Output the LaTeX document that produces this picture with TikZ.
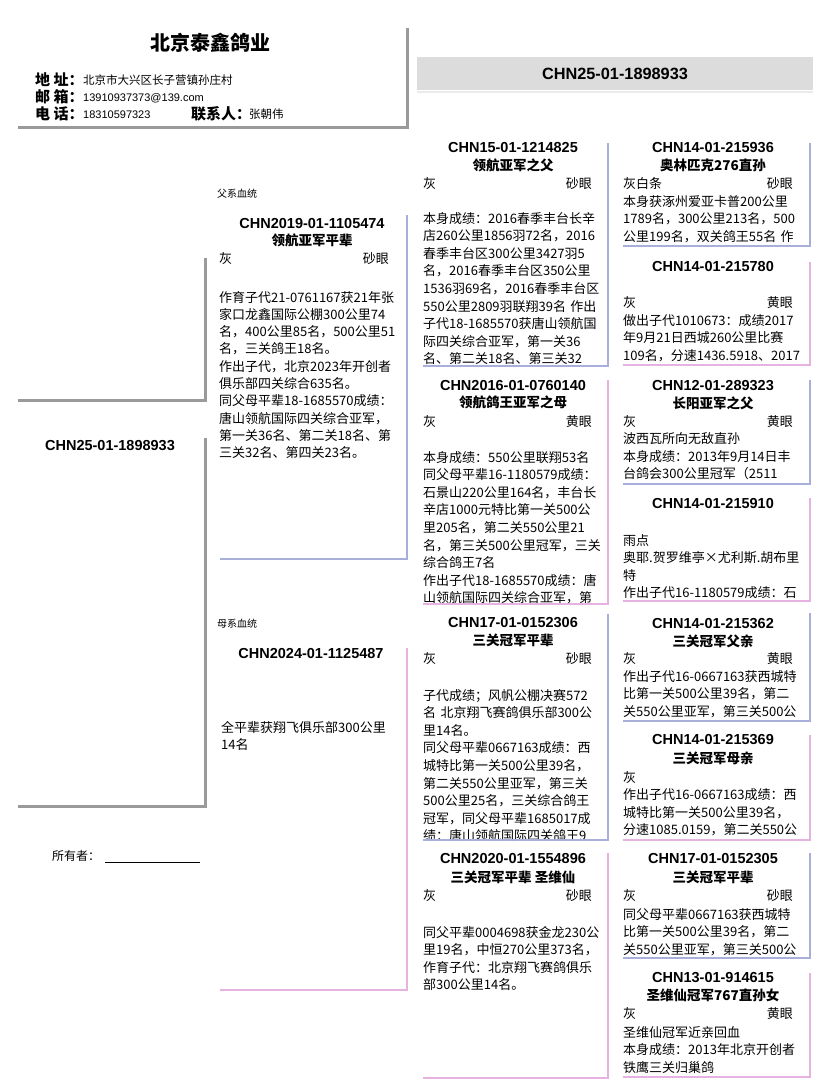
\documentclass[tikz,border=0pt]{standalone}
\usepackage{fontspec}
\setmainfont{Noto Sans CJK SC}
\newfontfamily\lat{Liberation Sans}
\definecolor{lineblue}{HTML}{A8AFDA}
\definecolor{linepink}{HTML}{E6B3E1}
\definecolor{linegray}{HTML}{9A9A9A}
\definecolor{bannergray}{HTML}{DCDCDC}
\newcommand\idfont{\lat\bfseries\fontsize{14.5}{17}\selectfont}
\newcommand\bigidfont{\lat\bfseries\fontsize{16.3}{19}\selectfont}
\newcommand\namefont{\bfseries\fontsize{13.5}{17}\selectfont}
\newcommand\bodyfont{\fontsize{13}{17.6}\selectfont}
\tikzset{
  x=1pt, y=-1pt,
  idn/.style={font=\idfont, anchor=base, inner sep=0pt},
  nmn/.style={font=\namefont, anchor=base, inner sep=0pt},
  bodyn/.style={font=\bodyfont, anchor=base west, inner sep=0pt, text width=200pt, align=left},
  lbln/.style={font=\bodyfont, anchor=base west, inner sep=0pt},
  eyen/.style={font=\bodyfont, anchor=base east, inner sep=0pt},
  hdrlbl/.style={font=\bfseries\fontsize{15}{17}\selectfont, anchor=base west, inner sep=0pt},
  blueline/.style={draw=lineblue, line width=2.5pt},
  pinkline/.style={draw=linepink, line width=2.5pt},
  grayline/.style={draw=linegray, line width=3pt},
}
\begin{document}
\begin{tikzpicture}
\useasboundingbox (0,0) rectangle (828,1084);
\fill[white] (0,0) rectangle (828,1084);

% ---------- header ----------
\node[font=\bfseries\fontsize{20}{24}\selectfont, anchor=base, inner sep=0pt] (title) at (210,50.6) {北京泰鑫鸽业};
\node[hdrlbl] (laddr) at (35,85.7) {地 址：};
\node[hdrlbl] (lmail) at (35,102.7) {邮 箱：};
\node[hdrlbl] (ltel) at (35,119.7) {电 话：};
\node[hdrlbl] (lcontact) at (191,119.7) {联系人：};
\node[font=\fontsize{11.5}{13}\selectfont, anchor=base west, inner sep=0pt] (vaddr) at (83,84.4) {北京市大兴区长子营镇孙庄村};
\node[font=\lat\fontsize{11}{13}\selectfont, anchor=base west, inner sep=0pt] (vmail) at (83,101.2) {13910937373@139.com};
\node[font=\lat\fontsize{11}{13}\selectfont, anchor=base west, inner sep=0pt] (vtel) at (83,118.2) {18310597323};
\node[font=\fontsize{11.5}{13}\selectfont, anchor=base west, inner sep=0pt] (vcontact) at (249,118.4) {张朝伟};
\draw[grayline] (18,127) -- (407,127) -- (407,28);

% ---------- banner ----------
\fill[bannergray] (417,57) rectangle (813,90);
\draw[draw=black!8, line width=1.5pt] (417,92) -- (813,92);
\node[font=\bigidfont, anchor=base, inner sep=0pt] (banner) at (615,79) {CHN25-01-1898933};

% ---------- left column ----------
\draw[grayline] (205,258) -- (205,400) -- (18,400);
\draw[grayline] (205,438) -- (205,806) -- (18,806);
\node[idn] (subject) at (110,450) {CHN25-01-1898933};
\node[font=\fontsize{10}{12}\selectfont, anchor=base west, inner sep=0pt] (sirelbl) at (217,197) {父系血统};
\node[font=\fontsize{10}{12}\selectfont, anchor=base west, inner sep=0pt] (damlbl) at (217,627) {母系血统};
\node[font=\fontsize{12}{14}\selectfont, anchor=base west, inner sep=0pt] (owner) at (52,860.5) {所有者：};
\draw[black, line width=0.8pt] (105,862) -- (200,862);

% ---------- sire ----------
\node[idn] (sid) at (312,228) {CHN2019-01-1105474};
\node[nmn] (snm) at (312,245) {领航亚军平辈};
\node[lbln] (scol) at (219,263) {灰};
\node[eyen] (seye) at (389,263) {砂眼};
\node[bodyn, font=\fontsize{13}{17.3}\selectfont] (sbody) at (219,302) {作育子代21-0761167获21年张\\家口龙鑫国际公棚300公里74\\名，400公里85名，500公里51\\名，三关鸽王18名。\\作出子代，北京2023年开创者\\俱乐部四关综合635名。\\同父母平辈18-1685570成绩：\\唐山领航国际四关综合亚军，\\第一关36名、第二关18名、第\\三关32名、第四关23名。};
\draw[blueline] (220,559) -- (407,559) -- (407,215);

% ---------- dam ----------
\node[idn] (did) at (311,658) {CHN2024-01-1125487};
\node[bodyn] (dbody) at (221,732) {全平辈获翔飞俱乐部300公里\\14名};
\draw[pinkline] (220,990) -- (407,990) -- (407,648);

% ---------- column 3 ----------
% card 1
\node[idn] (c1id) at (513,152) {CHN15-01-1214825};
\node[nmn] (c1nm) at (513,170) {领航亚军之父};
\node[lbln] (c1col) at (423,188) {灰};
\node[eyen] (c1eye) at (592,188) {砂眼};
\node[bodyn] (c1body) at (423,223) {本身成绩：2016春季丰台长辛\\店260公里1856羽72名，2016\\春季丰台区300公里3427羽5\\名，2016春季丰台区350公里\\1536羽69名，2016春季丰台区\\550公里2809羽联翔39名 作出\\子代18-1685570获唐山领航国\\际四关综合亚军，第一关36\\名、第二关18名、第三关32};
\draw[blueline] (423,366) -- (608,366) -- (608,143);
% card 2
\node[idn] (c2id) at (513,390) {CHN2016-01-0760140};
\node[nmn] (c2nm) at (513,407) {领航鸽王亚军之母};
\node[lbln] (c2col) at (423,426) {灰};
\node[eyen] (c2eye) at (592,426) {黄眼};
\node[bodyn] (c2body) at (423,462) {本身成绩：550公里联翔53名\\同父母平辈16-1180579成绩：\\石景山220公里164名，丰台长\\辛店1000元特比第一关500公\\里205名，第二关550公里21\\名，第三关500公里冠军，三关\\综合鸽王7名\\作出子代18-1685570成绩：唐\\山领航国际四关综合亚军，第};
\draw[pinkline] (423,604) -- (608,604) -- (608,380);
% card 3
\node[idn] (c3id) at (513,627) {CHN17-01-0152306};
\node[nmn] (c3nm) at (513,645) {三关冠军平辈};
\node[lbln] (c3col) at (423,663) {灰};
\node[eyen] (c3eye) at (592,663) {砂眼};
\node[bodyn] (c3body) at (423,700) {子代成绩；风帆公棚决赛572\\名 北京翔飞赛鸽俱乐部300公\\里14名。\\同父母平辈0667163成绩：西\\城特比第一关500公里39名，\\第二关550公里亚军，第三关\\500公里25名，三关综合鸽王\\冠军，同父母平辈1685017成\\绩：唐山领航国际四关鸽王9};
\draw[blueline] (423,840) -- (608,840) -- (608,614);
% card 4
\node[idn] (c4id) at (513,863) {CHN2020-01-1554896};
\node[nmn] (c4nm) at (513,882) {三关冠军平辈 圣维仙};
\node[lbln] (c4col) at (423,900) {灰};
\node[eyen] (c4eye) at (592,900) {砂眼};
\node[bodyn] (c4body) at (423,937) {同父平辈0004698获金龙230公\\里19名，中恒270公里373名，\\作育子代：北京翔飞赛鸽俱乐\\部300公里14名。};
\draw[pinkline] (423,1078) -- (608,1078) -- (608,853);

% ---------- column 4 ----------
% a
\node[idn] (aid) at (713,152) {CHN14-01-215936};
\node[nmn] (anm) at (713,170) {奥林匹克276直孙};
\node[lbln] (acol) at (623,188) {灰白条};
\node[eyen] (aeye) at (793,188) {砂眼};
\node[bodyn] (abody) at (623,206) {本身获涿州爱亚卡普200公里\\1789名，300公里213名，500\\公里199名，双关鸽王55名 作};
\draw[blueline] (623,246) -- (810,246) -- (810,143);
% b
\node[idn] (bid) at (713,271) {CHN14-01-215780};
\node[lbln] (bcol) at (623,307) {灰};
\node[eyen] (beye) at (793,307) {黄眼};
\node[bodyn] (bbody) at (623,325) {做出子代1010673：成绩2017\\年9月21日西城260公里比赛\\109名，分速1436.5918、2017};
\draw[pinkline] (623,365) -- (810,365) -- (810,262);
% c
\node[idn] (cid) at (713,390) {CHN12-01-289323};
\node[nmn] (cnm) at (713,408) {长阳亚军之父};
\node[lbln] (ccol) at (623,426) {灰};
\node[eyen] (ceye) at (793,426) {黄眼};
\node[bodyn] (cbody) at (623,443.5) {波西瓦所向无敌直孙\\本身成绩：2013年9月14日丰\\台鸽会300公里冠军（2511};
\draw[blueline] (623,484) -- (810,484) -- (810,380);
% d
\node[idn] (did2) at (713,508) {CHN14-01-215910};
\node[lbln] (dcol) at (623,545) {雨点};
\node[bodyn] (dbody2) at (623,562.5) {奥耶.贺罗维亭×尤利斯.胡布里\\特\\作出子代16-1180579成绩：石};
\draw[pinkline] (623,601) -- (810,601) -- (810,498);
% e
\node[idn] (eid) at (713,628) {CHN14-01-215362};
\node[nmn] (enm) at (713,646) {三关冠军父亲};
\node[lbln] (ecol) at (623,663) {灰};
\node[eyen] (eeye) at (793,663) {黄眼};
\node[bodyn] (ebody) at (623,681) {作出子代16-0667163获西城特\\比第一关500公里39名，第二\\关550公里亚军，第三关500公};
\draw[blueline] (623,721) -- (810,721) -- (810,613);
% f
\node[idn] (fid) at (713,744) {CHN14-01-215369};
\node[nmn] (fnm) at (713,763) {三关冠军母亲};
\node[lbln] (fcol) at (623,782) {灰};
\node[bodyn] (fbody) at (623,799.5) {作出子代16-0667163成绩：西\\城特比第一关500公里39名，\\分速1085.0159，第二关550公};
\draw[pinkline] (623,840) -- (810,840) -- (810,735);
% g
\node[idn] (gid) at (713,863) {CHN17-01-0152305};
\node[nmn] (gnm) at (713,882) {三关冠军平辈};
\node[lbln] (gcol) at (623,900) {灰};
\node[eyen] (geye) at (793,900) {砂眼};
\node[bodyn] (gbody) at (623,919) {同父母平辈0667163获西城特\\比第一关500公里39名，第二\\关550公里亚军，第三关500公};
\draw[blueline] (623,958) -- (810,958) -- (810,853);
% h
\node[idn] (hid) at (713,982) {CHN13-01-914615};
\node[nmn] (hnm) at (713,1000) {圣维仙冠军767直孙女};
\node[lbln] (hcol) at (623,1018) {灰};
\node[eyen] (heye) at (793,1018) {黄眼};
\node[bodyn] (hbody) at (623,1037) {圣维仙冠军近亲回血\\本身成绩：2013年北京开创者\\铁鹰三关归巢鸽};
\draw[pinkline] (623,1077) -- (810,1077) -- (810,973);
\end{tikzpicture}
\end{document}
